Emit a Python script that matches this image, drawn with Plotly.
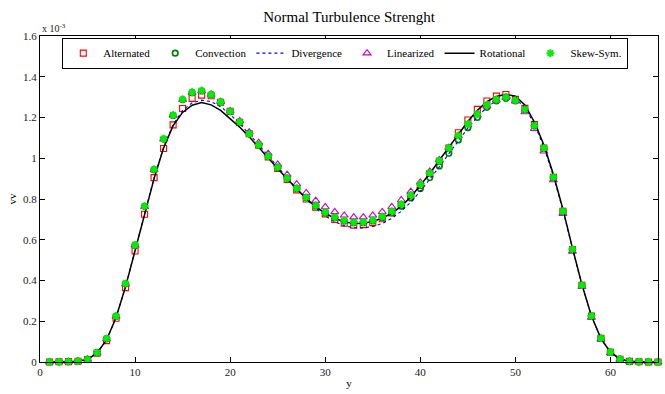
import plotly.graph_objects as go

y_pos = list(range(1, 66))

alternated = [0, 0.001, 0.002, 0.004, 0.012, 0.043, 0.105, 0.215, 0.365, 0.545,
              0.725, 0.905, 1.048, 1.164, 1.244, 1.294, 1.31, 1.307, 1.275, 1.23,
              1.176, 1.12, 1.064, 1.006, 0.95, 0.896, 0.845, 0.80, 0.76, 0.727,
              0.70, 0.681, 0.672, 0.674, 0.684, 0.703, 0.732, 0.77, 0.815, 0.867,
              0.925, 0.985, 1.05, 1.125, 1.188, 1.24, 1.281, 1.305, 1.313, 1.289,
              1.245, 1.165, 1.05, 0.906, 0.74, 0.552, 0.376, 0.225, 0.116, 0.048,
              0.013, 0.003, 0.001, 0, 0]

convection = [0, 0.001, 0.002, 0.004, 0.013, 0.046, 0.114, 0.225, 0.384, 0.574,
              0.764, 0.944, 1.094, 1.21, 1.287, 1.322, 1.33, 1.312, 1.275, 1.229,
              1.177, 1.12, 1.065, 1.009, 0.955, 0.902, 0.852, 0.806, 0.766, 0.733,
              0.708, 0.692, 0.684, 0.684, 0.692, 0.708, 0.732, 0.764, 0.805, 0.852,
              0.905, 0.962, 1.024, 1.09, 1.15, 1.20, 1.25, 1.281, 1.294, 1.281,
              1.238, 1.158, 1.048, 0.905, 0.739, 0.552, 0.376, 0.225, 0.116, 0.048,
              0.014, 0.003, 0.001, 0, 0]

divergence = [0, 0.001, 0.002, 0.004, 0.013, 0.044, 0.108, 0.218, 0.37, 0.55,
              0.73, 0.905, 1.055, 1.165, 1.235, 1.272, 1.285, 1.278, 1.253, 1.215,
              1.17, 1.12, 1.067, 1.012, 0.957, 0.902, 0.85, 0.80, 0.755, 0.717,
              0.688, 0.669, 0.659, 0.658, 0.665, 0.68, 0.705, 0.74, 0.785, 0.837,
              0.895, 0.958, 1.022, 1.087, 1.148, 1.203, 1.25, 1.283, 1.298, 1.293,
              1.25, 1.167, 1.055, 0.912, 0.745, 0.557, 0.378, 0.225, 0.114, 0.047,
              0.015, 0.004, 0.001, 0, 0]

linearized = [0, 0.001, 0.002, 0.004, 0.013, 0.045, 0.113, 0.224, 0.382, 0.572,
              0.762, 0.942, 1.093, 1.21, 1.287, 1.322, 1.33, 1.313, 1.278, 1.233,
              1.183, 1.128, 1.076, 1.023, 0.97, 0.92, 0.873, 0.83, 0.792, 0.761,
              0.737, 0.72, 0.711, 0.711, 0.72, 0.737, 0.761, 0.795, 0.836, 0.882,
              0.935, 0.992, 1.052, 1.11, 1.163, 1.212, 1.256, 1.285, 1.297, 1.28,
              1.227, 1.145, 1.034, 0.893, 0.728, 0.543, 0.369, 0.219, 0.111, 0.045,
              0.013, 0.003, 0.001, 0, 0]

rotational = [0, 0.001, 0.002, 0.004, 0.013, 0.044, 0.108, 0.218, 0.37, 0.55,
              0.73, 0.90, 1.05, 1.16, 1.225, 1.26, 1.273, 1.262, 1.235, 1.196,
              1.153, 1.105, 1.055, 1.003, 0.95, 0.898, 0.848, 0.802, 0.763, 0.73,
              0.705, 0.688, 0.68, 0.681, 0.69, 0.706, 0.73, 0.765, 0.81, 0.865,
              0.925, 0.99, 1.055, 1.12, 1.18, 1.235, 1.278, 1.303, 1.314, 1.305,
              1.262, 1.178, 1.065, 0.92, 0.75, 0.56, 0.38, 0.226, 0.115, 0.048,
              0.015, 0.004, 0.001, 0, 0]

skew_sym = [0, 0.001, 0.002, 0.004, 0.013, 0.046, 0.115, 0.226, 0.385, 0.575,
            0.765, 0.945, 1.096, 1.212, 1.289, 1.324, 1.332, 1.313, 1.276, 1.23,
            1.178, 1.12, 1.066, 1.01, 0.956, 0.903, 0.853, 0.808, 0.768, 0.735,
            0.71, 0.694, 0.686, 0.687, 0.696, 0.714, 0.74, 0.775, 0.82, 0.872,
            0.928, 0.988, 1.05, 1.112, 1.168, 1.217, 1.262, 1.289, 1.30, 1.285,
            1.24, 1.16, 1.05, 0.907, 0.74, 0.553, 0.377, 0.226, 0.117, 0.049,
            0.014, 0.003, 0.001, 0, 0]

x_ticks = [0, 10, 20, 30, 40, 50, 60]
y_ticks = [0, 0.2, 0.4, 0.6, 0.8, 1.0, 1.2, 1.4, 1.6]

FONT = "Liberation Serif, Times New Roman, serif"

fig = go.Figure()
fig.add_trace(go.Scatter(x=y_pos, y=alternated, name="Alternated", mode="markers",
                         marker=dict(symbol="square-open", size=6, color="#ff0000",
                                     line=dict(width=1.1, color="#ff0000")),
                         cliponaxis=False))
fig.add_trace(go.Scatter(x=y_pos, y=convection, name="Convection", mode="markers",
                         marker=dict(symbol="circle-open", size=5.5, color="#008000",
                                     line=dict(width=1.7, color="#008000")),
                         cliponaxis=False))
fig.add_trace(go.Scatter(x=y_pos, y=divergence, name="Divergence", mode="lines",
                         line=dict(color="#0000ff", width=1.1, dash="dot"),
                         cliponaxis=False))
fig.add_trace(go.Scatter(x=y_pos, y=linearized, name="Linearized", mode="markers",
                         marker=dict(symbol="triangle-up-open", size=7, color="#cc00cc",
                                     line=dict(width=1.1, color="#cc00cc")),
                         cliponaxis=False))
fig.add_trace(go.Scatter(x=y_pos, y=rotational, name="Rotational", mode="lines",
                         line=dict(color="#000000", width=1.5),
                         cliponaxis=False))
fig.add_trace(go.Scatter(x=y_pos, y=skew_sym, name="Skew-Sym.", mode="markers",
                         marker=dict(symbol="asterisk-open", size=6.5, color="#00ee00",
                                     line=dict(width=2, color="#00ee00")),
                         cliponaxis=False))

axis_common = dict(showline=True, linecolor="black", linewidth=1, mirror="ticks",
                   ticks="inside", ticklen=5, tickcolor="black", showgrid=False,
                   zeroline=False, tickfont=dict(family=FONT, size=11, color="#222"))

fig.update_layout(
    width=665, height=394,
    margin=dict(l=40, r=6, t=36, b=27),
    paper_bgcolor="white", plot_bgcolor="white",
    font=dict(family=FONT, size=11, color="black"),
    title=dict(text="Normal Turbulence Strenght", x=0.5, xref="paper",
               y=1 - 17 / 394, yanchor="middle",
               font=dict(family=FONT, size=15, color="black")),
    xaxis=dict(range=[0, 65], tickvals=x_ticks,
               title=dict(text="y", standoff=2, font=dict(family=FONT, size=11)),
               **axis_common),
    yaxis=dict(range=[0, 1.6], tickvals=y_ticks,
               title=dict(text="vv", standoff=4, font=dict(family=FONT, size=11)),
               **axis_common),
    legend=dict(orientation="h", x=0.494, xanchor="center", y=0.995, yanchor="top",
                bgcolor="white", bordercolor="black", borderwidth=1,
                font=dict(family=FONT, size=11, color="black"),
                itemwidth=30, tracegroupgap=0),
    showlegend=True,
)

fig.add_annotation(text="x 10<sup>-3</sup>", xref="paper", yref="paper",
                   x=0, y=1, xanchor="left", yanchor="bottom", showarrow=False,
                   font=dict(family=FONT, size=10, color="#222"))

fig.write_html("out.html")
